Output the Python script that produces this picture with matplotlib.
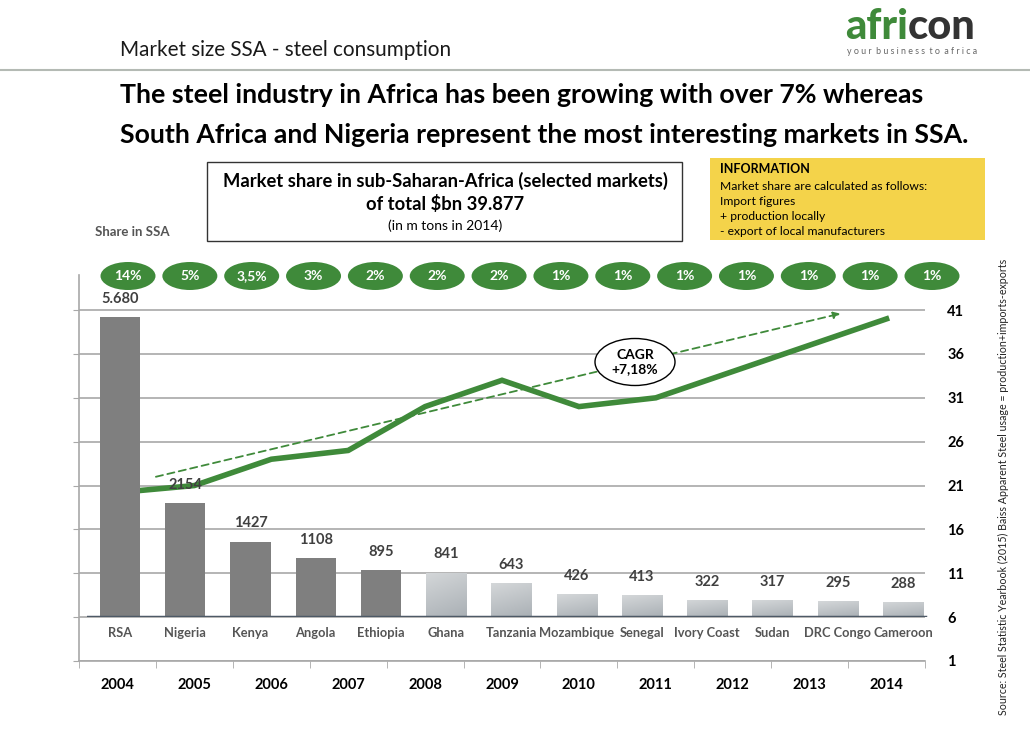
import matplotlib
matplotlib.use('Agg')
import matplotlib.pyplot as plt
from matplotlib.patches import Ellipse, Rectangle
from matplotlib.colors import LinearSegmentedColormap
import numpy as np

plt.rcParams['font.family'] = ['Lato', 'DejaVu Sans']

# data
countries = ['RSA', 'Nigeria', 'Kenya', 'Angola', 'Ethiopia', 'Ghana', 'Tanzania',
             'Mozambique', 'Senegal', 'Ivory Coast', 'Sudan', 'DRC Congo', 'Cameroon']
consumption = [5680, 2154, 1427, 1108, 895, 841, 643, 426, 413, 322, 317, 295, 288]
value_labels = ['5.680', '2154', '1427', '1108', '895', '841', '643', '426', '413',
                '322', '317', '295', '288']
shares = ['14%', '5%', '3,5%', '3%', '2%', '2%', '2%', '1%', '1%', '1%', '1%', '1%', '1%', '1%']
years = [2004, 2005, 2006, 2007, 2008, 2009, 2010, 2011, 2012, 2013, 2014]
total_steel = [20.2, 21.0, 24.0, 25.0, 30.0, 33.0, 30.0, 31.0, 34.0, 37.0, 40.0]
trend_start = (2004.5, 22.0)
trend_end = (2013.4, 40.6)

W, H = 1030, 729
GREEN = '#3f8a3a'
DARK = '#404040'


def fx(px):
    return px / W


def fy(py):
    return 1 - py / H


fig = plt.figure(figsize=(W / 100, H / 100), dpi=100)
renderer = fig.canvas.get_renderer()

# header
fig.text(fx(120), fy(50), 'Market size SSA - steel consumption', fontsize=14.9,
         ha='left', va='center', color='#1a1a1a')
fig.add_artist(plt.Line2D([0, 1], [fy(70), fy(70)], transform=fig.transFigure,
                          color='#b4bab4', lw=1.5))
logo1 = fig.text(fx(845), fy(27), 'afri', fontsize=30, fontweight='black', color=GREEN,
                 ha='left', va='center')
bb = logo1.get_window_extent(renderer)
fig.text(bb.x1 / W, fy(27), 'con', fontsize=30, fontweight='black', color='#333333',
         ha='left', va='center')
fig.text(fx(912), fy(52), 'y o u r  b u s i n e s s  t o  a f r i c a', fontsize=6.4,
         color='#666666', ha='center', va='center')

fig.text(fx(120), fy(95), 'The steel industry in Africa has been growing with over 7% whereas',
         fontsize=19.2, fontweight='bold', ha='left', va='center')
fig.text(fx(120), fy(135), 'South Africa and Nigeria represent the most interesting markets in SSA.',
         fontsize=19.2, fontweight='bold', ha='left', va='center')

# boxed subtitle
fig.add_artist(Rectangle((fx(207), fy(241)), fx(682) - fx(207), fy(162) - fy(241),
                         transform=fig.transFigure, fc='white', ec='#333333', lw=1))
fig.text(fx(445), fy(181), 'Market share in sub-Saharan-Africa (selected markets)',
         fontsize=13.2, fontweight='bold', ha='center', va='center')
fig.text(fx(445), fy(204), r'of total \$bn 39.877', fontsize=13.2, fontweight='bold',
         ha='center', va='center')
fig.text(fx(445), fy(226), '(in m tons in 2014)', fontsize=10, ha='center', va='center')
fig.text(fx(95), fy(232), 'Share in SSA', fontsize=9.5, fontweight='bold', color='#555555',
         ha='left', va='center')

# information box
fig.add_artist(Rectangle((fx(710), fy(240)), fx(985) - fx(710), fy(158) - fy(240),
                         transform=fig.transFigure, fc='#f4d34a', ec='none'))
fig.text(fx(720), fy(169), 'INFORMATION', fontsize=9, fontweight='bold', ha='left', va='center')
info_lines = ['Market share are calculated as follows:', 'Import figures',
              '+ production locally', '- export of local manufacturers']
for i, line in enumerate(info_lines):
    fig.text(fx(720), fy(186 + i * 15.3), line, fontsize=8.7, ha='left', va='center')

# line chart axes (years)
ax = fig.add_axes([fx(79), fy(661), fx(925) - fx(79), fy(275) - fy(661)], zorder=1)
ax.patch.set_visible(False)
ax.set_xlim(2003.5, 2014.5)
ax.set_ylim(1, 45)
ax.set_yticks(np.arange(1, 42, 5))
ax.yaxis.grid(True, color='#a8a8a8', lw=1.2)
ax.set_axisbelow(True)
ax.tick_params(axis='y', left=True, right=False, labelleft=False, labelright=True,
               length=4, color='#a8a8a8', pad=12, labelsize=10.5)
for lab in ax.get_yticklabels():
    lab.set_fontweight('bold')
ax.set_xticks(years)
ax.set_xticklabels([str(y) for y in years], fontweight='bold', fontsize=10.5)
ax.set_xticks(np.arange(2003.5, 2015, 1), minor=True)
ax.tick_params(axis='x', which='major', length=0, pad=12)
ax.tick_params(axis='x', which='minor', length=5, color='#a8a8a8')
for side in ['top', 'right']:
    ax.spines[side].set_visible(False)
for side in ['left', 'bottom']:
    ax.spines[side].set_color('#a8a8a8')
    ax.spines[side].set_linewidth(1.2)
ax.plot(years, total_steel, color=GREEN, lw=4, solid_joinstyle='miter')
ax.annotate('', xy=trend_end, xytext=trend_start,
            arrowprops=dict(arrowstyle='-|>', color=GREEN, lw=1.3, ls=(0, (4, 2.5)),
                            mutation_scale=10, shrinkA=0, shrinkB=0))

# bar chart axes (countries)
bx = fig.add_axes([fx(87.4), fy(617), fx(935.6) - fx(87.4), fy(275) - fy(617)], zorder=2)
bx.patch.set_visible(False)
bx.set_xlim(-0.5, len(countries) - 0.5)
bx.set_ylim(0, 342 / 0.05287)
colors = ['#7f7f7f'] * 5 + ['#c2c5c8'] * 8
x = np.arange(len(countries))
bars = bx.bar(x, consumption, width=0.62, color=colors)

# light bars get a soft gray gradient
grad_cmap = LinearSegmentedColormap.from_list('steel', ['#aab0b5', '#d4d7d9'])
gx, gy = np.meshgrid(np.linspace(0, 1, 40), np.linspace(0, 1, 40))
grad = 0.75 * gy + 0.25 * (1 - gx)
for b in bars[5:]:
    im = bx.imshow(grad, cmap=grad_cmap, origin='lower', aspect='auto',
                   extent=[b.get_x(), b.get_x() + b.get_width(), 0, b.get_height()],
                   zorder=b.get_zorder() + 0.1)
    im.set_clip_path(b)
bx.set_xlim(-0.5, len(countries) - 0.5)
bx.set_ylim(0, 342 / 0.05287)

for xi, v, lab in zip(x, consumption, value_labels):
    bx.annotate(lab, (xi, v), xytext=(0, 8), textcoords='offset points', ha='center',
                va='bottom', fontsize=10.5, fontweight='bold', color=DARK)
bx.axhline(0, xmin=0, xmax=0.987, color='#4d5966', lw=2.5, zorder=5)
bx.set_xticks(x)
bx.set_xticklabels(countries, fontsize=9.3, fontweight='bold', color='#555555')
bx.tick_params(axis='x', length=0, pad=7)
bx.set_yticks([])
for s in bx.spines.values():
    s.set_visible(False)

# share pills
pill_x = np.linspace(128, 932, len(shares))
for px, s in zip(pill_x, shares):
    fig.add_artist(Ellipse((fx(px), fy(276)), 55 / W, 28 / H, transform=fig.transFigure,
                           fc=GREEN, ec='none', zorder=10))
    fig.text(fx(px), fy(276), s, fontsize=10, fontweight='bold', color='white',
             ha='center', va='center', zorder=11)

# CAGR bubble
fig.add_artist(Ellipse((fx(635), fy(362)), 80 / W, 47 / H, transform=fig.transFigure,
                       fc='white', ec='black', lw=1, zorder=10))
fig.text(fx(635), fy(362), 'CAGR\n+7,18%', fontsize=10, fontweight='bold', ha='center',
         va='center', linespacing=1.2, zorder=11)

fig.text(fx(1003), fy(487),
         'Source: Steel Statistic Yearbook (2015) Baiss Apparent Steel usage = production+imports-exports',
         fontsize=7.7, rotation=90, ha='center', va='center', color='#222222')

fig.savefig('out.png', dpi=100, facecolor='white')
